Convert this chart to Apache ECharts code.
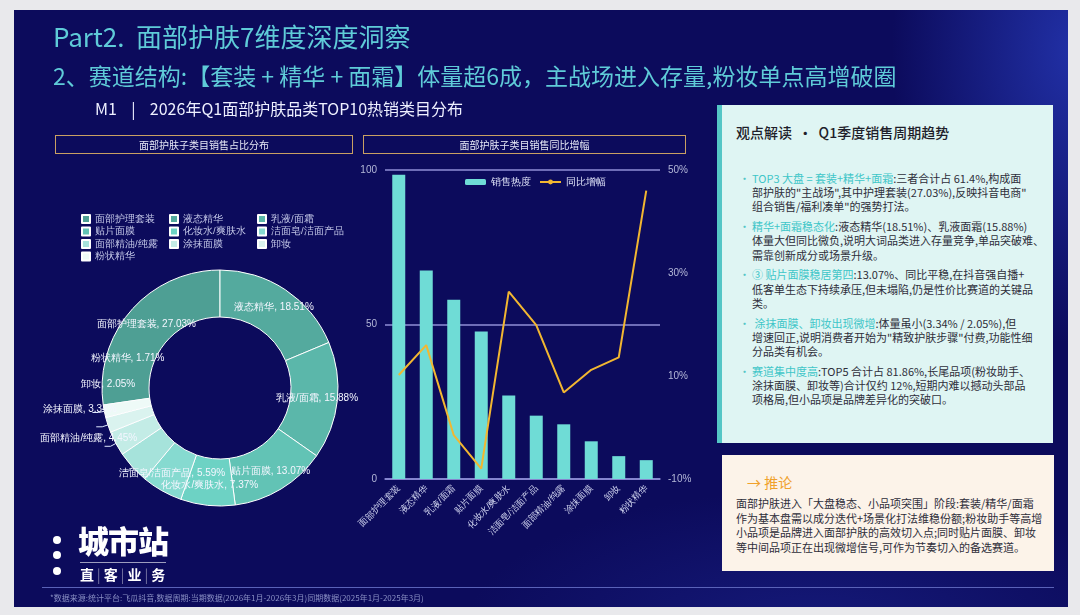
<!DOCTYPE html>
<html>
<head>
<meta charset="utf-8">
<script src="https://cdn.jsdelivr.net/npm/echarts@6/dist/echarts.min.js"></script>
<style>
  html, body { margin:0; padding:0; width:1080px; height:615px; overflow:hidden; background:#e9e9ec; font-family:"Noto Sans CJK SC","Noto Sans",sans-serif; }
  #slide { position:absolute; left:14px; top:10px; width:1054px; height:597px; background:
     radial-gradient(ellipse 260px 420px at 1060px 40px, rgba(40,60,190,0.75), rgba(40,60,190,0) 70%),
     radial-gradient(ellipse 500px 200px at 800px 620px, rgba(30,40,150,0.5), rgba(30,40,150,0) 70%),
     #0c0b5c; z-index:1; }
  #chart { position:absolute; left:0; top:0; width:1080px; height:615px; z-index:2; }
  .t { position:absolute; z-index:3; white-space:nowrap; }
  .title { color:#5fcbd8; left:53px; }
  .box { position:absolute; z-index:3; border:1.5px solid #c9a063; color:#e6e8f6; font-size:10px; text-align:center; line-height:17px; height:17px; }
  #panel { position:absolute; z-index:3; left:717px; top:105px; width:336px; height:338px; background:#dff5f3; border-left:5px solid #55c6c6; box-sizing:border-box; }
  #panel .h { position:absolute; left:14px; top:17px; font-size:14px; color:#1e1e2a; font-weight:500; }
  #panel .bl { position:absolute; left:30px; top:66px; font-size:11px; line-height:14.2px; color:#2e2e3a; }
  .bul { position:relative; margin-bottom:5.6px; white-space:nowrap; }
  .bul::before { content:"•"; position:absolute; left:-13px; color:#55c6c6; }
  .hl { color:#3ec6c8; }
  #concl { position:absolute; z-index:3; left:722px; top:455px; width:332px; height:116px; background:#fcf3e9; }
  #concl .h { position:absolute; left:25px; top:17px; color:#f0a12c; font-size:14px; }
  #concl .b { position:absolute; left:14px; top:41px; font-size:11px; line-height:14.7px; color:#2e2e3a; white-space:nowrap; }
  #hr { position:absolute; z-index:3; left:42px; top:587px; width:1012px; height:1px; background:#5a62b8; }
  #foot { left:50px; top:592px; font-size:8px; color:#8a90c4; }
  .dot { position:absolute; z-index:3; width:8px; height:8px; border-radius:50%; background:#fff; left:53px; }
</style>
</head>
<body>
<div id="slide"></div>
<div id="chart"></div>

<div class="t title" style="top:17px; font-size:26px;">Part2.&nbsp;&nbsp;面部护肤7维度深度洞察</div>
<div class="t title" style="top:58px; font-size:23px;">2、赛道结构:【套装 + 精华 + 面霜】体量超6成，主战场进入存量,粉妆单点高增破圈</div>
<div class="t" style="left:95px; top:96px; font-size:16px; color:#eef0ff;">M1&nbsp;&nbsp;&nbsp;&nbsp;|&nbsp;&nbsp;&nbsp;&nbsp;2026年Q1面部护肤品类TOP10热销类目分布</div>

<div class="box" style="left:55px; top:135px; width:296px;">面部护肤子类目销售占比分布</div>
<div class="box" style="left:363px; top:135px; width:321px;">面部护肤子类目销售同比增幅</div>

<div id="panel">
  <div class="h">观点解读&nbsp;&nbsp;·&nbsp;&nbsp;Q1季度销售周期趋势</div>
  <div class="bl">
    <div class="bul"><span class="hl">TOP3 大盘 = 套装+精华+面霜</span>:三者合计占 61.4%,构成面<br>部护肤的"主战场",其中护理套装(27.03%),反映抖音电商"<br>组合销售/福利凑单"的强势打法。</div>
    <div class="bul"><span class="hl">精华+面霜稳态化</span>:液态精华(18.51%)、乳液面霜(15.88%)<br>体量大但同比微负,说明大词品类进入存量竞争,单品突破难、<br>需靠创新成分或场景升级。</div>
    <div class="bul"><span class="hl">③ 贴片面膜稳居第四</span>:13.07%、同比平稳,在抖音强自播+<br>低客单生态下持续承压,但未塌陷,仍是性价比赛道的关键品<br>类。</div>
    <div class="bul"><span class="hl">&nbsp;涂抹面膜、卸妆出现微增</span>:体量虽小(3.34% / 2.05%),但<br>增速回正,说明消费者开始为"精致护肤步骤"付费,功能性细<br>分品类有机会。</div>
    <div class="bul"><span class="hl">赛道集中度高</span>:TOP5 合计占 81.86%,长尾品项(粉妆助手、<br>涂抹面膜、卸妆等)合计仅约 12%,短期内难以撼动头部品<br>项格局,但小品项是品牌差异化的突破口。</div>
  </div>
</div>

<div id="concl">
  <div class="h">→ 推论</div>
  <div class="b">面部护肤进入「大盘稳态、小品项突围」阶段:套装/精华/面霜<br>作为基本盘需以成分迭代+场景化打法维稳份额;粉妆助手等高增<br>小品项是品牌进入面部护肤的高效切入点;同时贴片面膜、卸妆<br>等中间品项正在出现微增信号,可作为节奏切入的备选赛道。</div>
</div>

<div class="dot" style="top:536px;"></div>
<div class="dot" style="top:551px;"></div>
<div class="dot" style="top:567px;"></div>
<div class="t" style="left:78px; top:517px; font-size:31px; font-weight:900; color:#fff; letter-spacing:-1px;">城市站</div>
<div class="t" style="left:80px; top:562px; width:86px; height:1px; background:rgba(255,255,255,0.6);"></div>
<div class="t" style="left:80px; top:564px; font-size:14px; font-weight:700; color:#fff;">直<span style="opacity:.6;font-weight:300;"> | </span>客<span style="opacity:.6;font-weight:300;"> | </span>业<span style="opacity:.6;font-weight:300;"> | </span>务</div>

<div id="hr"></div>
<div class="t" id="foot">*数据来源:统计平台:飞瓜抖音,数据周期:当期数据(2026年1月-2026年3月)同期数据(2025年1月-2025年3月)</div>

<script>
// ---- data ----
const pieNames = ['面部护理套装','液态精华','乳液/面霜','贴片面膜','化妆水/爽肤水','洁面皂/洁面产品','面部精油/纯露','涂抹面膜','卸妆','粉状精华'];
const pieValues = [27.03, 18.51, 15.88, 13.07, 7.37, 5.59, 4.45, 3.34, 2.05, 1.71];
const barCategories = ['面部护理套装','液态精华','乳液/面霜','贴片面膜','化妆水/爽肤水','洁面皂/洁面产品','面部精油/纯露','涂抹面膜','卸妆','粉状精华'];
const heatValues = [98.5, 67.5, 58, 47.7, 27, 20.5, 17.7, 12.2, 7.4, 6.1];
const yoyValues = [10.2, 16, -1.5, -8, 26.4, 19.9, 6.8, 11.2, 13.6, 46];
const leftTicks = [0, 50, 100];
const rightTicks = [-10, 10, 30, 50];

// ---- styles ----
const sliceColors = ['#4e9f94','#54aa9e','#5bb7aa','#62c3b5','#6dd2c4','#86dad0','#a6e3db','#c3ece6','#daf3ef','#eefaf7'];
const outsideIdx = [6,7,8,9];
// label nudges (dx, dy) for the small outside labels
const labelNudge = { 6:[20,-33], 7:[17,-37], 8:[44,-43], 9:[77,-54] };
const sum = pieValues.reduce((a,b)=>a+b,0);

const pieData = pieNames.map((n,i)=>{
  const item = { name:n, value:pieValues[i], itemStyle:{ color:sliceColors[i] } };
  if (outsideIdx.includes(i)) {
    item.label = { position:'outside' };
    item.labelLine = { show:true, length:6, length2:6, lineStyle:{ color:'#dfe9ff', width:1 } };
  }
  return item;
});

const legendText = { color:'#c4c8e8', fontSize:9.5 };
function colLegend(names, left) {
  return { data:names, orient:'vertical', left:left, top:209, itemWidth:8, itemHeight:8, itemGap:2.5,
    icon:'rect', textStyle:legendText, selectedMode:false };
}

const chart = echarts.init(document.getElementById('chart'), null, { renderer:'canvas' });
chart.setOption({
  backgroundColor:'transparent',
  animation:false,
  legend:[
    colLegend([pieNames[0], pieNames[3], pieNames[6], pieNames[9]], 76),
    colLegend([pieNames[1], pieNames[4], pieNames[7]], 164),
    colLegend([pieNames[2], pieNames[5], pieNames[8]], 252),
    { data:['销售热度','同比增幅'], left:460, top:172, itemWidth:21, itemHeight:6, itemGap:8,
      textStyle:{ color:'#dfe3f8', fontSize:10 }, selectedMode:false }
  ],
  grid:{ left:385, right:420, top:170, bottom:136 },
  xAxis:{ type:'category', data:barCategories,
    axisLine:{ lineStyle:{ color:'#8f8fd6', width:1.5 } }, axisTick:{ show:false },
    axisLabel:{ rotate:45, interval:0, color:'#d4d8f2', fontSize:9, margin:8 } },
  yAxis:[
    { type:'value', min:leftTicks[0], max:leftTicks[leftTicks.length-1], interval:50,
      axisLabel:{ color:'#b4b8d8', fontSize:10, margin:8 },
      splitLine:{ lineStyle:{ color:'#8f8fd6', width:1.5 } }, axisLine:{ show:false }, axisTick:{ show:false } },
    { type:'value', min:rightTicks[0], max:rightTicks[rightTicks.length-1], interval:20,
      axisLabel:{ color:'#b4b8d8', fontSize:10, formatter:'{value}%', margin:8 },
      splitLine:{ show:false }, axisLine:{ show:false }, axisTick:{ show:false } }
  ],
  series:[
    { type:'pie', name:'占比', center:[220,388], radius:[71,118],
      startAngle: 90 + pieValues[0]/sum*360, clockwise:true,
      data:pieData,
      itemStyle:{ borderColor:'#ffffff', borderWidth:1 },
      label:{ show:true, position:'inside', formatter:'{b}, {c}%', color:'#f4f6ff', fontSize:10 },
      labelLine:{ show:false },
      labelLayout:function(p){
        const n = labelNudge[p.dataIndex];
        return n ? { dx:n[0], dy:n[1] } : {};
      },
      emphasis:{ disabled:true } },
    { type:'bar', name:'销售热度', data:heatValues, barWidth:13, itemStyle:{ color:'#6fdcd6' } },
    { type:'line', name:'同比增幅', yAxisIndex:1, data:yoyValues, symbol:'none',
      lineStyle:{ color:'#f2b731', width:2 }, itemStyle:{ color:'#f2b731' } }
  ]
});
</script>
</body>
</html>
